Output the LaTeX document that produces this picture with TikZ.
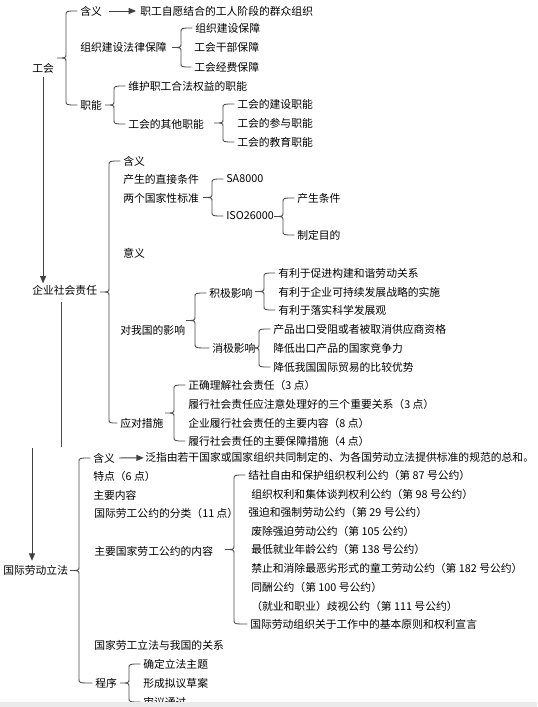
\documentclass[tikz,border=0pt]{standalone}
\usepackage{fontspec}
\setmainfont{Noto Sans CJK SC}
\usetikzlibrary{arrows.meta, calc}

% curly brace from the first to the last child of a group
\newcommand{\brc}[2]{%
  \draw[brc] let \p1=(#1.west), \p2=(#2.west),
      \p3=($(#1.west)+(-14,0)$), \p4=($(#1.west)!0.5!(#2.west)$) in
    (\x1-2pt,\y1) .. controls (\x3,\y1) .. (\x3,\y1-3pt)
    -- (\x3,\y4+3pt) .. controls (\x3,\y4) .. (\x3-6.75pt,\y4)
    .. controls (\x3,\y4) .. (\x3,\y4-3pt)
    -- (\x3,\y2+3pt) .. controls (\x3,\y2) .. (\x2-2pt,\y2);
}

\begin{document}
\begin{tikzpicture}[
  x=0.75pt, y=-0.75pt,
  font=\fontsize{8.1pt}{9pt}\selectfont,
  txt/.style={anchor=west, inner sep=0pt, text=black},
  brc/.style={draw=black!70, line width=0.65pt},
  line/.style={draw=black!70, line width=0.65pt},
  arrow/.style={-{Triangle[length=5.5pt,width=4.5pt]}, draw=black!75, line width=0.65pt},
]
  \useasboundingbox (0,0) rectangle (537,707);
  \fill[white] (0,0) rectangle (537,707);

  % 工会
  \node[txt] (gh)    at (32,68)   {工会};
  \node[txt] (gh1)   at (80,11)   {含义};
  \node[txt] (gh1a)  at (140,11)  {职工自愿结合的工人阶段的群众组织};
  \node[txt] (gh2)   at (80,47)   {组织建设法律保障};
  \node[txt] (gh2a)  at (195,28)  {组织建设保障};
  \node[txt] (gh2b)  at (194,47)  {工会干部保障};
  \node[txt] (gh2c)  at (194,67)  {工会经费保障};
  \node[txt] (gh3)   at (80,105)  {职能};
  \node[txt] (gh3a)  at (128,86)  {维护职工合法权益的职能};
  \node[txt] (gh3b)  at (128,124) {工会的其他职能};
  \node[txt] (gh3b1) at (237,104) {工会的建设职能};
  \node[txt] (gh3b2) at (237,123) {工会的参与职能};
  \node[txt] (gh3b3) at (237,142) {工会的教育职能};

  % 企业社会责任
  \node[txt] (qy)    at (32,290)  {企业社会责任};
  \node[txt] (qy1)   at (123,161) {含义};
  \node[txt] (qy2)   at (123,179) {产生的直接条件};
  \node[txt] (qy3)   at (123,198) {两个国家性标准};
  \node[txt] (qy3a)  at (226,179) {SA8000};
  \node[txt] (qy3b)  at (226,216) {ISO26000};
  \node[txt] (qy3b1) at (297,198) {产生条件};
  \node[txt] (qy3b2) at (297,235) {制定目的};
  \node[txt] (qy4)   at (123,253) {意义};
  \node[txt] (qy5)   at (120,330) {对我国的影响};
  \node[txt] (qy5a)  at (209,293) {积极影响};
  \node[txt] (qy5a1) at (278,273) {有利于促进构建和谐劳动关系};
  \node[txt] (qy5a2) at (278,292) {有利于企业可持续发展战略的实施};
  \node[txt] (qy5a3) at (278,310) {有利于落实科学发展观};
  \node[txt] (qy5b)  at (212,348) {消极影响};
  \node[txt] (qy5b1) at (273,329) {产品出口受阻或者被取消供应商资格};
  \node[txt] (qy5b2) at (273,348) {降低出口产品的国家竞争力};
  \node[txt] (qy5b3) at (273,367) {降低我国国际贸易的比较优势};
  \node[txt] (qy6)   at (120,423) {应对措施};
  \node[txt] (qy6a)  at (188,385) {正确理解社会责任（3 点）};
  \node[txt] (qy6b)  at (188,404) {履行社会责任应注意处理好的三个重要关系（3 点）};
  \node[txt] (qy6c)  at (188,423) {企业履行社会责任的主要内容（8 点）};
  \node[txt] (qy6d)  at (188,441) {履行社会责任的主要保障措施（4 点）};

  % 国际劳动立法
  \node[txt] (gj)    at (3,570)   {国际劳动立法};
  \node[txt] (gj1)   at (93,458)  {含义};
  \node[txt] (gj1a)  at (145,457) {泛指由若干国家或国家组织共同制定的、为各国劳动立法提供标准的规范的总和。};
  \node[txt] (gj2)   at (93,476)  {特点（6 点）};
  \node[txt] (gj3)   at (93,495)  {主要内容};
  \node[txt] (gj4)   at (94,513)  {国际劳工公约的分类（11 点）};
  \node[txt] (gj5)   at (94,551)  {主要国家劳工公约的内容};
  \node[txt] (gj5a)  at (248,475) {结社自由和保护组织权利公约（第 87 号公约）};
  \node[txt] (gj5b)  at (251,494) {组织权利和集体谈判权利公约（第 98 号公约）};
  \node[txt] (gj5c)  at (248,512) {强迫和强制劳动公约（第 29 号公约）};
  \node[txt] (gj5d)  at (251,531) {废除强迫劳动公约（第 105 公约）};
  \node[txt] (gj5e)  at (251,549) {最低就业年龄公约（第 138 号公约）};
  \node[txt] (gj5f)  at (251,568) {禁止和消除最恶劣形式的童工劳动公约（第 182 号公约）};
  \node[txt] (gj5g)  at (251,587) {同酬公约（第 100 号公约）};
  \node[txt] (gj5h)  at (251,606) {（就业和职业）歧视公约（第 111 号公约）};
  \node[txt] (gj5i)  at (250,624) {国际劳动组织关于工作中的基本原则和权利宣言};
  \node[txt] (gj6)   at (94,645)  {国家劳工立法与我国的关系};
  \node[txt] (gj7)   at (95,683)  {程序};
  \node[txt] (gj7a)  at (143,664) {确定立法主题};
  \node[txt] (gj7b)  at (143,683) {形成拟议草案};
  \node[txt] (gj7c)  at (143,702) {审议通过};

  \coordinate (e1) at (61,447);
  \coordinate (e2) at (32,448);

  \draw[arrow, shorten <=5pt, shorten >=3pt] (gh1) -- (gh1a);
  \brc{gh1}{gh3}
  \brc{gh2a}{gh2c}
  \brc{gh3a}{gh3b}
  \brc{gh3b1}{gh3b3}
  \draw[arrow, shorten <=3pt, shorten >=1pt] (gh.south) -- (qy.north -| gh.south);

  \brc{qy1}{qy6}
  \brc{qy3a}{qy3b}
  \brc{qy3b1}{qy3b2}
  \brc{qy5a}{qy5b}
  \brc{qy5a1}{qy5a3}
  \brc{qy5b1}{qy5b3}
  \brc{qy6a}{qy6d}
  \draw[line, shorten <=5pt] (qy.south -| e1) -- (e1);

  \draw[arrow, shorten >=3pt] (e2) -- (gj.north -| e2);
  \brc{gj1}{gj7}
  \draw[arrow, shorten <=3pt, shorten >=1pt] (gj1) -- (gj1a);
  \brc{gj5a}{gj5i}
  \brc{gj7a}{gj7c}

  \fill[black!8] (0,701.5) rectangle (537,707);
\end{tikzpicture}
\end{document}
